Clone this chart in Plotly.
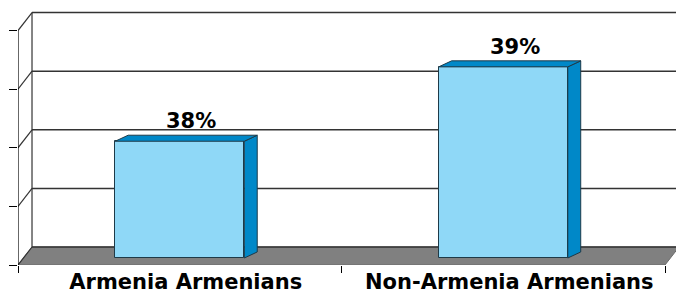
import plotly.graph_objects as go

# ---- data ----
CATEGORIES = ["Armenia Armenians", "Non-Armenia Armenians"]
VALUES = [38, 39]
VALUE_LABELS = ["38%", "39%"]

# ---- value axis (hidden labels) ----
Y_BASE = 36.43      # value at the bars' base
Y_STEP = 0.788      # gridline step
N_STEPS = 4

# ---- 3D look parameters (data units) ----
WALL_DX, WALL_DY = 0.0433, 0.242
BAR_DX, BAR_DY = 0.040, 0.081
FLOOR_GAP = 0.094
BAR_W = 0.399

FRONT = "#8FD8F7"
SIDE = "#0088C8"
EDGE = "#1E3A48"
GRID = "#333333"
FLOOR = "#808080"

yf = Y_BASE - FLOOR_GAP
front_ticks = [yf + k * Y_STEP for k in range(N_STEPS + 1)]
x_left = -0.5
x_right = len(CATEGORIES) - 0.5
X_MAX = 1.534
Y_MAX = 39.899

shapes = []
# floor
fx0, fx1 = x_left, x_right
shapes.append(dict(
    type="path", xref="x", yref="y", layer="below",
    path=f"M {fx0},{yf} L {fx1},{yf} L {fx1 + WALL_DX},{yf + WALL_DY} L {X_MAX + 0.1},{yf + WALL_DY} "
         f"L {X_MAX + 0.1},{yf + WALL_DY} L {fx0 + WALL_DX},{yf + WALL_DY} Z",
    fillcolor=FLOOR, line=dict(color="#6a6a6a", width=1)))
# back-wall gridlines and side-wall diagonals
for t in front_ticks:
    shapes.append(dict(type="line", xref="x", yref="y", layer="below",
                       x0=x_left + WALL_DX, x1=X_MAX + 0.1, y0=t + WALL_DY, y1=t + WALL_DY,
                       line=dict(color=GRID, width=1.5)))
    shapes.append(dict(type="line", xref="x", yref="y", layer="below",
                       x0=x_left, x1=x_left + WALL_DX, y0=t, y1=t + WALL_DY,
                       line=dict(color=GRID, width=1.2)))
# back wall left edge
shapes.append(dict(type="line", xref="x", yref="y", layer="below",
                   x0=x_left + WALL_DX, x1=x_left + WALL_DX,
                   y0=front_ticks[0] + WALL_DY, y1=front_ticks[-1] + WALL_DY,
                   line=dict(color=GRID, width=1.2)))
# front value axis line
shapes.append(dict(type="line", xref="x", yref="y", layer="below",
                   x0=x_left, x1=x_left, y0=front_ticks[0], y1=front_ticks[-1],
                   line=dict(color="black", width=1.2)))

fig = go.Figure()

xs = list(range(len(CATEGORIES)))
fig.add_trace(go.Bar(
    x=xs, y=[v - Y_BASE for v in VALUES], base=Y_BASE, width=BAR_W,
    marker=dict(color=FRONT, line=dict(color=EDGE, width=1)),
    hoverinfo="skip", showlegend=False))

for i, v in zip(xs, VALUES):
    l, r = i - BAR_W / 2, i + BAR_W / 2
    # side face
    fig.add_trace(go.Scatter(
        x=[r, r + BAR_DX, r + BAR_DX, r, r],
        y=[Y_BASE, Y_BASE + BAR_DY, v + BAR_DY, v, Y_BASE],
        fill="toself", fillcolor=SIDE, mode="lines",
        line=dict(color=EDGE, width=1), hoverinfo="skip", showlegend=False))
    # top face
    fig.add_trace(go.Scatter(
        x=[l, l + BAR_DX, r + BAR_DX, r, l],
        y=[v, v + BAR_DY, v + BAR_DY, v, v],
        fill="toself", fillcolor=SIDE, mode="lines",
        line=dict(color=EDGE, width=1), hoverinfo="skip", showlegend=False))

annotations = []
for i, v, lab in zip(xs, VALUES, VALUE_LABELS):
    annotations.append(dict(
        x=i + BAR_DX / 2, y=v + BAR_DY, xref="x", yref="y", text=lab,
        showarrow=False, yanchor="bottom", xanchor="center", xshift=5, yshift=0,
        font=dict(family="DejaVu Sans", size=21, color="black", weight="bold")))

fig.update_layout(
    width=676, height=293,
    margin=dict(l=18, r=0, t=0, b=28, autoexpand=False),
    paper_bgcolor="white", plot_bgcolor="white",
    shapes=shapes, annotations=annotations,
    xaxis=dict(
        range=[x_left, X_MAX], showgrid=False, zeroline=False, showline=False,
        automargin=False,
        tickmode="array", tickvals=xs, ticktext=CATEGORIES,
        ticks="", ticklabelstandoff=2,
        ticklabelshift=6,
        tickfont=dict(family="DejaVu Sans", size=21, color="black", weight="bold"),
        minor=dict(tickmode="array", tickvals=[x_left + k for k in range(len(CATEGORIES) + 1)],
                   ticks="outside", ticklen=7, tickcolor="black", tickwidth=1, showgrid=False),
    ),
    yaxis=dict(
        range=[yf, Y_MAX], showgrid=False, zeroline=False, showline=False,
        automargin=False,
        tickmode="array", tickvals=front_ticks, ticks="outside", ticklen=8,
        tickcolor="black", tickwidth=1, showticklabels=False,
    ),
    bargap=0,
)

fig.write_html(
    "out.html",
    config={"displayModeBar": False},
    post_script="document.body.style.margin='0px';document.body.style.overflow='hidden';",
)
